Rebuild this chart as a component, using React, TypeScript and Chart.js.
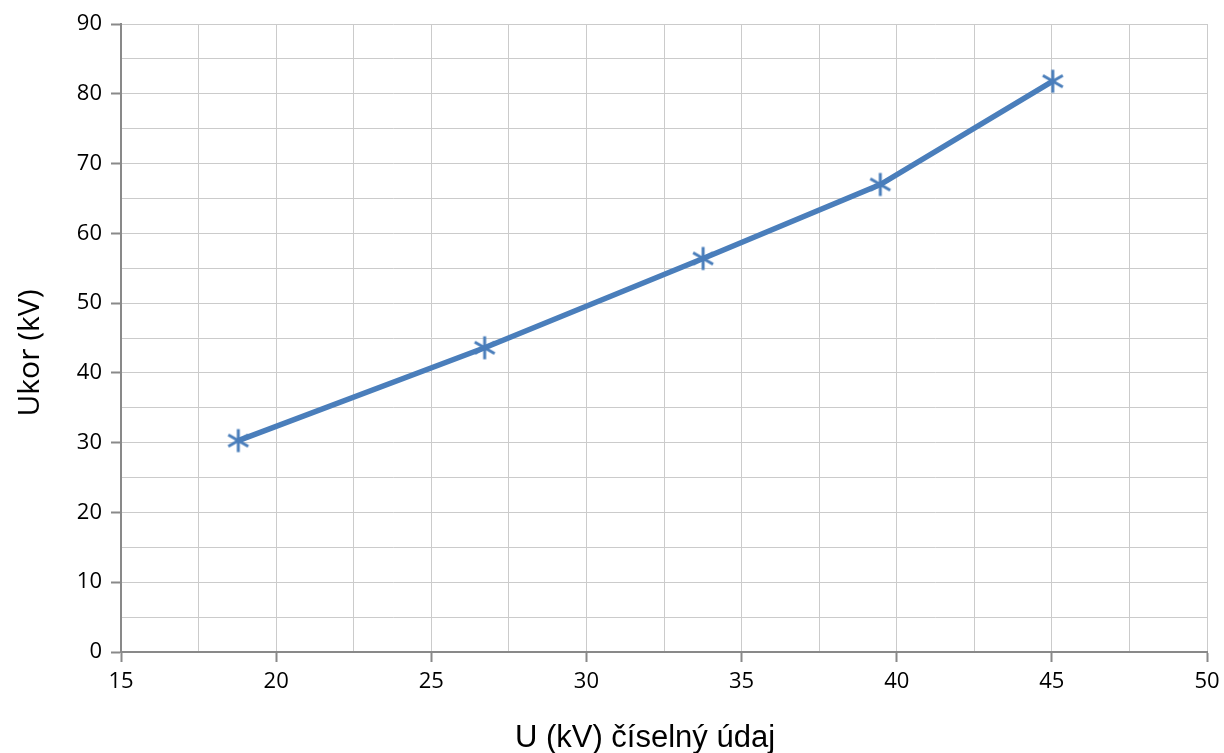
import React, { useEffect, useRef } from "react";
import { Chart, registerables } from "chart.js";

Chart.register(...registerables);

const xValues: number[] = [18.78, 26.72, 33.76, 39.47, 45.03];
const yValues: number[] = [30.3, 43.6, 56.4, 67.0, 81.8];
const xTitle = "U (kV) číselný údaj";
const yTitle = "Ukor (kV)";
const xMin = 15;
const xMax = 50;
const yMin = 0;
const yMax = 90;

const LINE_COLOR = "#4a7ebb";

function makeStar(): HTMLCanvasElement {
  const c = document.createElement("canvas");
  const s = 28;
  c.width = s;
  c.height = s;
  const g = c.getContext("2d")!;
  g.strokeStyle = LINE_COLOR;
  g.lineWidth = 3;
  g.lineCap = "butt";
  const cx = s / 2;
  const cy = s / 2;
  const r = 11.5;
  for (let i = 0; i < 3; i++) {
    const a = Math.PI / 2 + (i * Math.PI) / 3;
    g.beginPath();
    g.moveTo(cx + r * Math.cos(a), cy + r * Math.sin(a));
    g.lineTo(cx - r * Math.cos(a), cy - r * Math.sin(a));
    g.stroke();
  }
  return c;
}

const titlesPlugin = {
  id: "axisTitles",
  afterDraw(chart: any) {
    const ctx = chart.ctx as CanvasRenderingContext2D;
    ctx.save();
    ctx.fillStyle = "#000";
    ctx.textAlign = "center";
    ctx.textBaseline = "middle";
    ctx.font = "31px 'Liberation Sans'";
    ctx.fillText(xTitle, 645, 738);
    ctx.translate(30, 353);
    ctx.rotate(-Math.PI / 2);
    ctx.font = "30px 'Open Sans'";
    ctx.fillText(yTitle, 0, 0);
    ctx.restore();
  },
};

export default function App() {
  const ref = useRef<HTMLCanvasElement | null>(null);
  useEffect(() => {
    if (!ref.current) return;
    const star = makeStar();
    const chart = new Chart(ref.current, {
      type: "scatter",
      data: {
        datasets: [
          {
            data: xValues.map((x, i) => ({ x, y: yValues[i] })),
            showLine: true,
            borderColor: LINE_COLOR,
            backgroundColor: LINE_COLOR,
            borderWidth: 5.5,
            pointStyle: star as any,
            pointRadius: 12,
            pointHoverRadius: 12,
            tension: 0,
          },
        ],
      },
      options: {
        animation: false,
        responsive: false,
        maintainAspectRatio: false,
        events: [],
        layout: { autoPadding: false, padding: { top: 24, right: 17, left: 0, bottom: 0 } },
        plugins: { legend: { display: false }, tooltip: { enabled: false } },
        scales: {
          x: {
            type: "linear",
            min: xMin,
            max: xMax,
            afterFit: (s: any) => {
              s.height = 101;
              s.paddingLeft = 12;
              s.paddingRight = 12;
            },
            border: { color: "#898989", width: 2 },
            grid: {
              color: "#cbcbcb",
              lineWidth: 1,
              tickLength: 10,
              tickWidth: 2,
              tickColor: (c: any) =>
                c.tick && c.tick.value % 5 === 0 ? "#898989" : "rgba(0,0,0,0)",
            },
            ticks: {
              stepSize: 2.5,
              autoSkip: false,
              maxRotation: 0,
              padding: 7,
              color: "#000",
              font: { family: "'Open Sans'", size: 22 },
              callback: (v: any) => (Number(v) % 5 === 0 ? String(v) : ""),
            },
          },
          y: {
            type: "linear",
            min: yMin,
            max: yMax,
            afterFit: (s: any) => {
              s.width = 121;
            },
            border: { color: "#898989", width: 2 },
            grid: {
              color: "#cbcbcb",
              lineWidth: 1,
              tickLength: 10,
              tickWidth: 2,
              tickColor: (c: any) =>
                c.tick && c.tick.value % 10 === 0 ? "#898989" : "rgba(0,0,0,0)",
            },
            ticks: {
              stepSize: 5,
              autoSkip: false,
              padding: 9,
              color: "#000",
              font: { family: "'Open Sans'", size: 22 },
              callback: (v: any) => (Number(v) % 10 === 0 ? String(v) : ""),
            },
          },
        },
      },
      plugins: [titlesPlugin],
    });
    return () => chart.destroy();
  }, []);
  return (
    <div style={{ position: "fixed", left: 0, top: 0, width: 1224, height: 753, background: "#fff" }}>
      <canvas ref={ref} width={1224} height={753} style={{ width: 1224, height: 753, display: "block" }} />
    </div>
  );
}
